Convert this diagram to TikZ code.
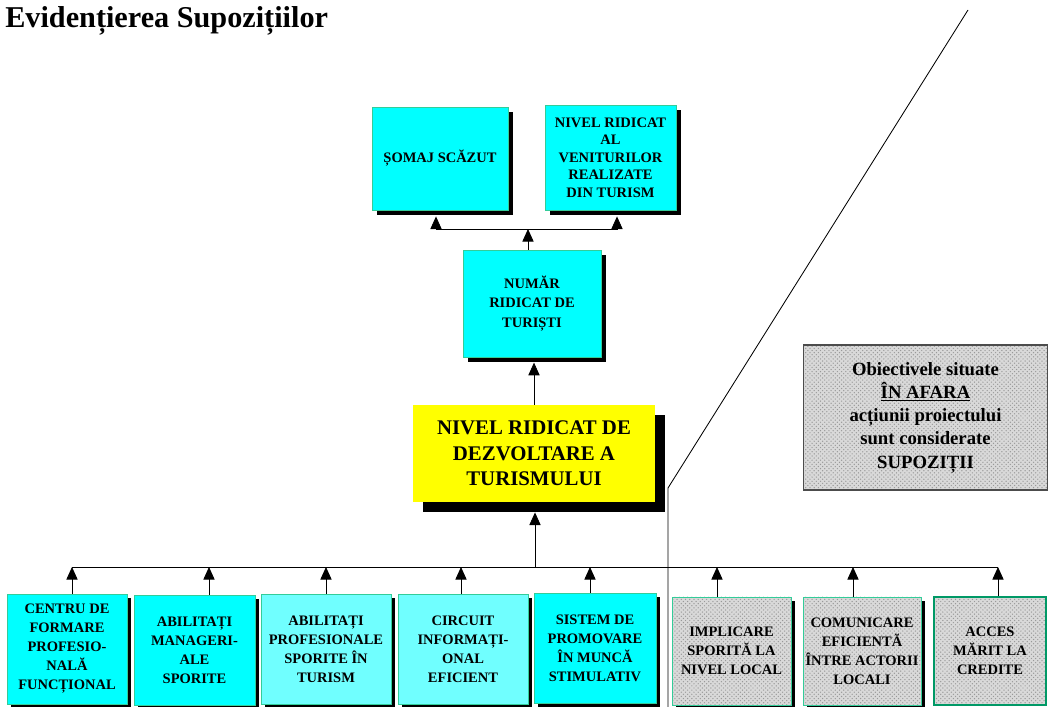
\documentclass[tikz,border=0pt]{standalone}
\usepackage{fontspec}
\setmainfont{Liberation Serif}
\usepackage{tikz}
\usetikzlibrary{positioning, arrows.meta, shadows, patterns}
\definecolor{boxcyan}{HTML}{00FFFF}
\definecolor{palecyan}{HTML}{70FFFF}
\definecolor{edgeteal}{HTML}{33CC99}
\definecolor{darkteal}{HTML}{009966}
\definecolor{boxyellow}{HTML}{FFFF00}

\tikzset{
  boxshadow/.style={general shadow={fill=black, shadow xshift=#1, shadow yshift=-#1}},
  basebox/.style={align=center, inner sep=1pt, line width=0.6pt,
    font=\bfseries\fontsize{10.3}{12.5}\selectfont},
  objbox/.style={boxshadow=#1, basebox, draw=edgeteal, fill=boxcyan},
  objbox/.default=0.13cm,
  lowbox/.style={objbox=0.1cm, minimum height=2.75cm,
    font=\bfseries\fontsize{10.3}{13.5}\selectfont},
  supbox/.style={boxshadow=0.1cm, basebox, draw=edgeteal, preaction={fill=gray!30},
    pattern=crosshatch dots, pattern color=gray!80, minimum height=2.7cm,
    font=\bfseries\fontsize{10.3}{13.5}\selectfont},
  arr/.style={-{Triangle[width=8pt,length=9pt]}, line width=0.6pt},
  conn/.style={line width=0.6pt}
}

\begin{document}
\begin{tikzpicture}[x=0.025cm, y=-0.025cm]
\useasboundingbox (0,0) rectangle (1048,707);

\node[anchor=base west, inner sep=0, font=\bfseries\fontsize{21.5}{24}\selectfont] (titlu) at (5,28) {Evidențierea Supozițiilor};

\node[objbox, minimum width=3.4cm, minimum height=2.575cm] (somaj) at (440,158.5) {ȘOMAJ SCĂZUT};
\node[objbox, minimum width=3.275cm, minimum height=2.625cm] (venit) at (610.5,157.5) {NIVEL RIDICAT\\AL\\VENITURILOR\\REALIZATE\\DIN TURISM};
\node[objbox, minimum width=3.45cm, minimum height=2.675cm, font=\bfseries\fontsize{10.3}{14}\selectfont] (turisti) at (532,303.5) {NUMĂR\\RIDICAT DE\\TURIȘTI};
\node[objbox=0.25cm, draw=none, fill=boxyellow, minimum width=6.05cm, minimum height=2.425cm, font=\bfseries\fontsize{14.8}{18}\selectfont] (dezv) at (534,453.5) {NIVEL RIDICAT DE\\DEZVOLTARE A\\TURISMULUI};

\node[basebox, draw=black!70, line width=1pt, preaction={fill=gray!30}, pattern=crosshatch dots, pattern color=gray!80, minimum width=6.1cm, minimum height=3.625cm, font=\bfseries\fontsize{13.3}{16.5}\selectfont] (ipoteze) at (925.5,417.5) {Obiectivele situate\\\underline{ÎN AFARA}\\acțiunii proiectului\\sunt considerate\\SUPOZIȚII};

\node[lowbox, minimum width=3.0cm] (c1) at (67,649) {CENTRU DE\\FORMARE\\PROFESIO-\\NALĂ\\FUNCȚIONAL};
\node[lowbox, minimum width=3.025cm] (c2) at (194.5,650) {ABILITAȚI\\MANAGERI-\\ALE\\SPORITE};
\node[lowbox, fill=palecyan, minimum width=3.25cm] (c3) at (326,649) {ABILITAȚI\\PROFESIONALE\\SPORITE ÎN\\TURISM};
\node[lowbox, fill=palecyan, minimum width=3.25cm] (c4) at (463,649.5) {CIRCUIT\\INFORMAȚI-\\ONAL\\EFICIENT};
\node[lowbox, minimum width=3.05cm] (c5) at (595,648) {SISTEM DE\\PROMOVARE\\ÎN MUNCĂ\\STIMULATIV};
\node[supbox, minimum width=2.975cm] (c6) at (731.5,651) {IMPLICARE\\SPORITĂ LA\\NIVEL LOCAL};
\node[supbox, minimum width=2.95cm] (c7) at (862,651) {COMUNICARE\\EFICIENTĂ\\ÎNTRE ACTORII\\LOCALI};
\node[basebox, draw=darkteal, line width=1.5pt, preaction={fill=gray!30}, pattern=crosshatch dots, pattern color=gray!80, minimum width=2.8cm, minimum height=2.7cm, font=\bfseries\fontsize{10.3}{13.5}\selectfont] (c8) at (990,651) {ACCES\\MĂRIT LA\\CREDITE};

\coordinate (u1) at (436,229);
\coordinate (um) at (528,229);
\coordinate (u2) at (617,229);
\draw[conn] (u1) -- (u2);
\draw[arr] (turisti.north -| um) -- (um);
\draw[arr] (u1) -- ([yshift=-0.15cm]somaj.south -| u1);
\draw[arr] (u2) -- ([yshift=-0.15cm]venit.south -| u2);
\draw[arr] (dezv.north) -- ([yshift=-0.13cm]dezv.north |- turisti.south);

\coordinate (t1) at (72,567);
\coordinate (t2) at (209,567);
\coordinate (t3) at (326,567);
\coordinate (t4) at (461,567);
\coordinate (tm) at (535,567);
\coordinate (t5) at (590,567);
\coordinate (t6) at (717,567);
\coordinate (t7) at (853,567);
\coordinate (t8) at (998,567);
\draw[conn] (t1) -- (t8);
\draw[arr] (tm) -- ([yshift=-0.25cm]dezv.south -| tm);
\foreach \i in {1,...,8}
  \draw[arr] (c\i.north -| t\i) -- (t\i);

\coordinate (d1) at (968,10);
\coordinate (d2) at (668,488);
\coordinate (d3) at (668,707);
\draw[conn] (d1) -- (d2) -- (d3);
\end{tikzpicture}
\end{document}
